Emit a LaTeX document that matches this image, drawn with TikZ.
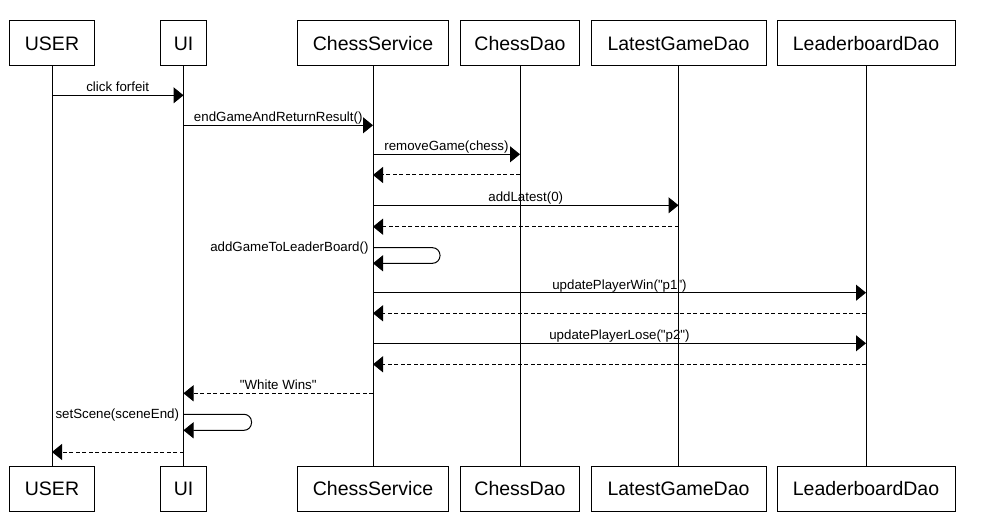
\documentclass[tikz,border=0pt]{standalone}
\usepackage{fontspec}
\setmainfont{Liberation Sans}[Ligatures=TeXOff]
\usetikzlibrary{arrows.meta}
\begin{document}
\begin{tikzpicture}[x=1pt,y=-1pt,
  actor/.style={draw=black, line width=1pt, minimum height=45pt, inner sep=0pt, font=\fontsize{19.5}{22}\selectfont},
  life/.style={line width=1pt},
  msg/.style={line width=1pt, -{Triangle[length=10pt,width=16pt]}},
  ret/.style={msg, dash pattern=on 4pt off 2.5pt},
  lbl/.style={font=\fontsize{13.3}{15}\selectfont, inner sep=0pt, anchor=base, yshift=3.5pt},
  slbl/.style={font=\fontsize{13.3}{15}\selectfont, inner sep=0pt, anchor=base east, xshift=-4pt, yshift=-4pt}]
\useasboundingbox (0,0) rectangle (997,532);
% top actors
\node[actor, minimum width=84.5pt] (uT) at (52,43.5) {USER};
\node[actor, minimum width=46pt] (iT) at (183.5,43.5) {UI};
\node[actor, minimum width=151pt] (cT) at (373,43.5) {ChessService};
\node[actor, minimum width=119pt] (dT) at (520,43.5) {ChessDao};
\node[actor, minimum width=175pt] (lT) at (678.5,43.5) {LatestGameDao};
\node[actor, minimum width=178pt] (bT) at (866,43.5) {LeaderboardDao};
% bottom actors
\node[actor, minimum width=84.5pt] (uB) at (52,488.5) {USER};
\node[actor, minimum width=46pt] (iB) at (183.5,488.5) {UI};
\node[actor, minimum width=151pt] (cB) at (373,488.5) {ChessService};
\node[actor, minimum width=119pt] (dB) at (520,488.5) {ChessDao};
\node[actor, minimum width=175pt] (lB) at (678.5,488.5) {LatestGameDao};
\node[actor, minimum width=178pt] (bB) at (866,488.5) {LeaderboardDao};
% lifelines
\draw[life] (uT) -- (uB);
\draw[life] (iT) -- (iB);
\draw[life] (cT) -- (cB);
\draw[life] (dT) -- (dB);
\draw[life] (lT) -- (lB);
\draw[life] (bT) -- (bB);
% messages
\draw[msg] (uT |- 0,95.3) -- node[lbl]{click forfeit} (iT |- 0,95.3);
\draw[msg] (iT |- 0,125.3) -- node[lbl]{endGameAndReturnResult()} (cT |- 0,125.3);
\draw[msg] (cT |- 0,154.3) -- node[lbl]{removeGame(chess)} (dT |- 0,154.3);
\draw[ret] (dT |- 0,175) -- (cT |- 0,175);
\draw[msg] (cT |- 0,205.3) -- node[lbl]{addLatest(0)} (lT |- 0,205.3);
\draw[ret] (lT |- 0,226.7) -- (cT |- 0,226.7);
\draw[msg, rounded corners=7.5pt] (cT |- 0,247.7) node[slbl]{addGameToLeaderBoard()} -- (440,247.7) -- (440,263.3) -- (cT |- 0,263.3);
\draw[msg] (cT |- 0,292.7) -- node[lbl]{updatePlayerWin("p1")} (bT |- 0,292.7);
\draw[ret] (bT |- 0,313.3) -- (cT |- 0,313.3);
\draw[msg] (cT |- 0,343.3) -- node[lbl]{updatePlayerLose("p2")} (bT |- 0,343.3);
\draw[ret] (bT |- 0,364.3) -- (cT |- 0,364.3);
\draw[ret] (cT |- 0,393.3) -- node[lbl]{"White Wins"} (iT |- 0,393.3);
\draw[msg, rounded corners=7.5pt] (iT |- 0,414.3) node[slbl]{setScene(sceneEnd)} -- (251.5,414.3) -- (251.5,430.3) -- (iT |- 0,430.3);
\draw[ret] (iT |- 0,452) -- (uT |- 0,452);
\end{tikzpicture}
\end{document}
